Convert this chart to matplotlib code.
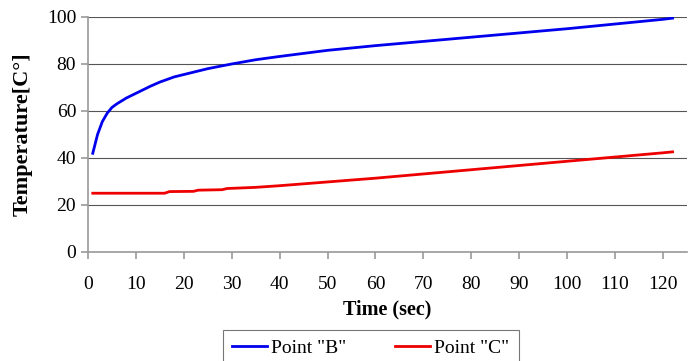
import matplotlib.pyplot as plt

# Data
time_b = [1, 2, 3, 4, 5, 6, 8, 10, 13, 15, 18, 20, 25, 30, 35, 40, 45, 50, 55, 60,
          65, 70, 75, 80, 85, 90, 95, 100, 105, 110, 115, 120, 122]
temp_b = [42, 50, 55.5, 59, 61.5, 63, 65.5, 67.5, 70.5, 72.3, 74.5, 75.5, 78, 80, 81.8, 83.2,
          84.5, 85.8, 86.8, 87.8, 88.7, 89.6, 90.5, 91.4, 92.3, 93.2, 94.1, 95, 96, 97,
          98, 99, 99.5]
time_c = [1, 16, 17, 22, 23, 28, 29, 35, 40, 45, 50, 55, 60, 65, 70, 75, 80, 85, 90,
          95, 100, 105, 110, 115, 120, 122]
temp_c = [25, 25, 25.7, 25.8, 26.3, 26.5, 27, 27.5, 28.2, 29, 29.8, 30.6, 31.4, 32.3,
          33.2, 34.1, 35, 35.9, 36.8, 37.7, 38.6, 39.5, 40.4, 41.3, 42.2, 42.6]

plt.rcParams['font.family'] = ['Liberation Serif', 'DejaVu Serif']

fig = plt.figure(figsize=(6.96, 3.61), dpi=100)
ax = fig.add_axes([0.1264, 0.302, 0.8606, 0.651])

ax.plot(time_b, temp_b, color='#0000ee', lw=2, label='Point "B"')
ax.plot(time_c, temp_c, color='#ee0000', lw=2, label='Point "C"')

ax.set_xlim(0, 125)
ax.set_ylim(0, 100)
ax.set_xticks(range(0, 121, 10))
ax.set_yticks(range(0, 101, 20))
ax.grid(axis='y', color='#555555', lw=0.8)
ax.set_axisbelow(True)
for s in ['top', 'right']:
    ax.spines[s].set_visible(False)
for s in ['left', 'bottom']:
    ax.spines[s].set_color('#999999')
    ax.spines[s].set_linewidth(1.2)
ax.tick_params(labelsize=14, color='#999999', length=5, width=1.2)
ax.tick_params(axis='x', pad=12)

ax.set_xlabel('Time (sec)', fontsize=14.5, fontweight='bold', labelpad=5)
ax.set_ylabel('Temperature[C°]', fontsize=16, fontweight='bold', labelpad=10)

leg = fig.legend(loc='upper left', bbox_to_anchor=(0.32, 0.087), ncol=2, fontsize=14,
                 frameon=True, fancybox=False, edgecolor='#555555',
                 handlelength=1.8, handletextpad=0.2, columnspacing=2.5,
                 borderpad=0.5, borderaxespad=0)
leg.get_frame().set_linewidth(0.8)

plt.savefig('out.png', dpi=100)
